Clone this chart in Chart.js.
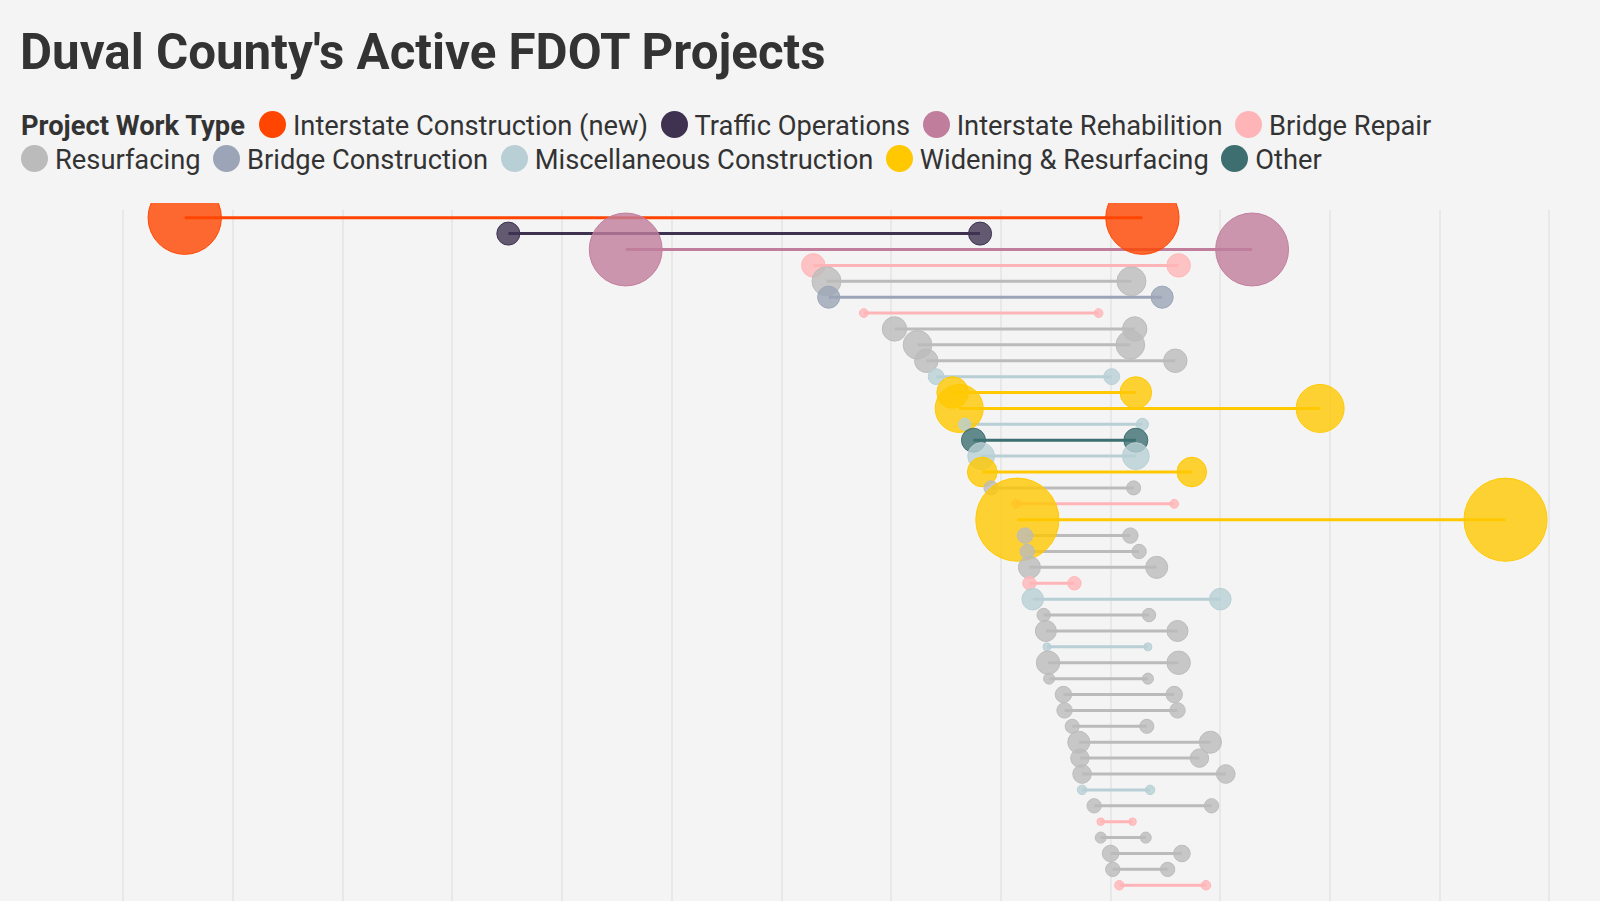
<!DOCTYPE html>
<html>
<head>
<meta charset="utf-8">
<script src="https://cdn.jsdelivr.net/npm/chart.js@4"></script>
<style>
  body { margin: 0; background: #f4f4f4; width: 1600px; height: 901px; overflow: hidden; position: relative; font-family: Roboto, sans-serif; color: #333; }
  #title { position: absolute; left: 20px; top: 28px; margin: 0; font: 700 49.3px/49px Roboto, sans-serif; color: #333; white-space: nowrap; }
  #legend { position: absolute; left: 21px; top: 113px; font: 400 27.3px/27px Roboto, sans-serif; }
  .row { display: flex; align-items: center; height: 27px; margin-bottom: 6.5px; white-space: nowrap; }
  .lbl { font-weight: 700; margin-right: 14px; }
  .dot { width: 27px; height: 27px; border-radius: 50%; margin-right: 7px; transform: translateY(-2px); flex: none; }
  .txt { margin-right: 12.5px; }
  #wrap { position: absolute; left: 0; top: 203px; width: 1600px; height: 698px; }
</style>
</head>
<body>
<h1 id="title">Duval County's Active FDOT Projects</h1>
<div id="legend"></div>
<div id="wrap"><canvas id="chart" width="1600" height="698"></canvas></div>
<script>
const workTypes = ["Interstate Construction (new)", "Traffic Operations", "Interstate Rehabilition", "Bridge Repair",
  "Resurfacing", "Bridge Construction", "Miscellaneous Construction", "Widening & Resurfacing", "Other"];
const typeColors = ["#ff4500", "#3f3250", "#c17d9c", "#ffb5b7", "#bbbbbb", "#9ba5b7", "#b8cfd5", "#ffc800", "#3d6e70"];

// one entry per project, sorted by start
const projectType = [0,1,2,3,4,5,3,4,4,4,6,7,7,6,8,6,7,4,3,7,4,4,4,3,6,4,4,6,4,4,4,4,4,4,4,4,6,4,3,4,4,4,3];
const startYear = [2010.56, 2013.51, 2014.58, 2016.29, 2016.41, 2016.43, 2016.75, 2017.03, 2017.24, 2017.32,
  2017.41, 2017.56, 2017.62, 2017.67, 2017.75, 2017.82, 2017.83, 2017.91, 2018.14, 2018.15,
  2018.22, 2018.24, 2018.26, 2018.26, 2018.29, 2018.39, 2018.41, 2018.42, 2018.43, 2018.44,
  2018.57, 2018.58, 2018.65, 2018.71, 2018.72, 2018.74, 2018.74, 2018.85, 2018.91, 2018.91,
  2019.00, 2019.02, 2019.08];
const endYear = [2019.29, 2017.81, 2020.29, 2019.62, 2019.19, 2019.47, 2018.89, 2019.22, 2019.18, 2019.59,
  2019.01, 2019.23, 2020.91, 2019.29, 2019.23, 2019.23, 2019.74, 2019.21, 2019.58, 2022.60,
  2019.18, 2019.26, 2019.42, 2018.67, 2020.00, 2019.35, 2019.61, 2019.34, 2019.62, 2019.34,
  2019.58, 2019.61, 2019.33, 2019.91, 2019.81, 2020.05, 2019.36, 2019.92, 2019.20, 2019.32,
  2019.65, 2019.52, 2019.87];
const costM = [84, 8.3, 83, 8.6, 13.1, 7.6, 1.2, 9.3, 12.8, 8.6, 3.9, 15.6, 36, 2.3, 9, 11.2, 13.7, 3.1, 1.2, 108,
  3.7, 3.2, 7.6, 2.8, 7.3, 2.8, 6.9, 1.0, 8.6, 1.9, 4.2, 3.7, 3.1, 7.6, 5.3, 5.4, 1.4, 3.2, 0.9, 1.9,
  4.3, 3.2, 1.4];
const gridYears = [2010, 2023];

function rgba(hex, a) {
  const n = parseInt(hex.slice(1), 16);
  return 'rgba(' + (n >> 16) + ',' + ((n >> 8) & 255) + ',' + (n & 255) + ',' + a + ')';
}

// legend
const legend = document.getElementById('legend');
const rows = [document.createElement('div'), document.createElement('div')];
rows.forEach(r => { r.className = 'row'; legend.appendChild(r); });
const lbl = document.createElement('span');
lbl.className = 'lbl';
lbl.textContent = 'Project Work Type';
rows[0].appendChild(lbl);
workTypes.forEach((name, i) => {
  const row = rows[i < 4 ? 0 : 1];
  const d = document.createElement('span');
  d.className = 'dot';
  d.style.background = typeColors[i];
  const t = document.createElement('span');
  t.className = 'txt';
  t.textContent = name;
  row.appendChild(d);
  row.appendChild(t);
});

const datasets = [];
const bubbles = [], fills = [], strokes = [];
projectType.forEach((t, i) => {
  datasets.push({
    type: 'line',
    data: [{x: startYear[i], y: i}, {x: endYear[i], y: i}],
    borderColor: typeColors[t],
    borderWidth: 3,
    pointRadius: 0,
    tension: 0,
    order: 2
  });
  const r = 4 * Math.sqrt(costM[i]);
  [startYear[i], endYear[i]].forEach(x => {
    bubbles.push({x: x, y: i, r: r});
    fills.push(rgba(typeColors[t], 0.8));
    strokes.push(typeColors[t]);
  });
});
datasets.push({
  type: 'bubble',
  data: bubbles,
  backgroundColor: fills,
  borderColor: strokes,
  borderWidth: 1,
  clip: false,
  order: 1
});

new Chart(document.getElementById('chart').getContext('2d'), {
  type: 'bubble',
  data: { datasets: datasets },
  options: {
    responsive: false,
    devicePixelRatio: 1,
    animation: false,
    events: [],
    layout: { autoPadding: false, padding: { top: 7, left: 123.3, right: 50.6, bottom: 0 } },
    scales: {
      x: {
        type: 'linear',
        min: gridYears[0],
        max: gridYears[1],
        ticks: { display: false, stepSize: 1, maxTicksLimit: 20 },
        grid: { color: '#e8e8e8', lineWidth: 2, drawTicks: false, tickLength: 0 },
        border: { display: false }
      },
      y: {
        type: 'linear',
        display: false,
        reverse: true,
        min: -0.484,
        max: 42.99
      }
    },
    plugins: {
      legend: { display: false },
      tooltip: { enabled: false }
    }
  }
});
</script>
</body>
</html>
